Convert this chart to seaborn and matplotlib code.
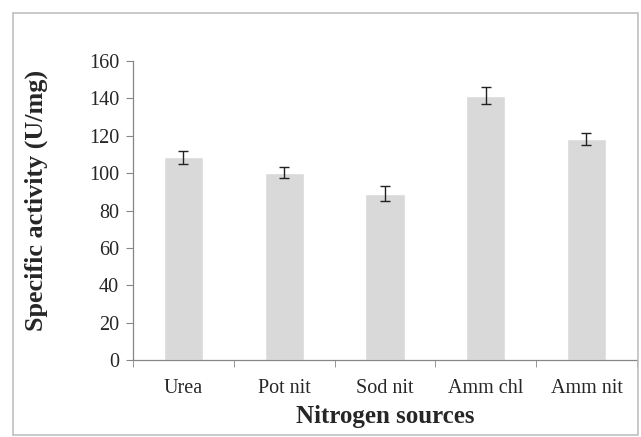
import pandas as pd
import matplotlib.pyplot as plt
import seaborn as sns
from matplotlib.patches import Rectangle

sources = ["Urea", "Pot nit", "Sod nit", "Amm chl", "Amm nit"]
activity = [108.5, 100.2, 89.0, 141.5, 118.5]
error = [3.5, 3.0, 4.0, 4.5, 3.2]

df = pd.DataFrame({"source": sources, "activity": activity, "err": error})

sns.set_style("white")
plt.rcParams["font.family"] = ["Liberation Serif", "DejaVu Serif"]

fig = plt.figure(figsize=(6.41, 4.37), dpi=100)
ax = fig.add_axes([0.2075, 0.1762, 0.786, 0.684])

sns.barplot(data=df, x="source", y="activity", color="#d9d9d9",
            width=0.39, saturation=1, errorbar=None, ax=ax)
ax.errorbar(range(len(sources)), df["activity"], yerr=df["err"], fmt="none",
            ecolor="#222222", elinewidth=1.0, capsize=3.5, capthick=1.0)

ax.set_xlim(-0.5, len(sources) - 0.5)
ax.set_ylim(0, 160)
ax.set_yticks(range(0, 161, 20))
ax.set_xticks(range(len(sources)))
ax.set_xticklabels(sources, fontsize=14.5)
ax.tick_params(axis="y", labelsize=14.5, length=5, color="#868686",
               direction="out", left=True, pad=5)
ax.tick_params(axis="x", length=0, pad=14)
# minor ticks at category boundaries
ax.set_xticks([i - 0.5 for i in range(len(sources) + 1)], minor=True)
ax.tick_params(axis="x", which="minor", length=5, color="#868686",
               direction="out", bottom=True)

for side in ["top", "right"]:
    ax.spines[side].set_visible(False)
for side in ["left", "bottom"]:
    ax.spines[side].set_color("#868686")
    ax.spines[side].set_linewidth(0.9)

ax.set_xlabel("Nitrogen sources", fontsize=18, fontweight="bold", labelpad=5)
ax.set_ylabel("Specific activity (U/mg)", fontsize=18.8, fontweight="bold")
ax.yaxis.set_label_coords(-0.169, 0.535)

# light chart border
fig.patches.append(Rectangle((0.0203, 0.0046), 0.975, 0.9657, transform=fig.transFigure,
                             fill=False, edgecolor="#c0c0c0", linewidth=1.2))

fig.savefig("out.png", dpi=100)
